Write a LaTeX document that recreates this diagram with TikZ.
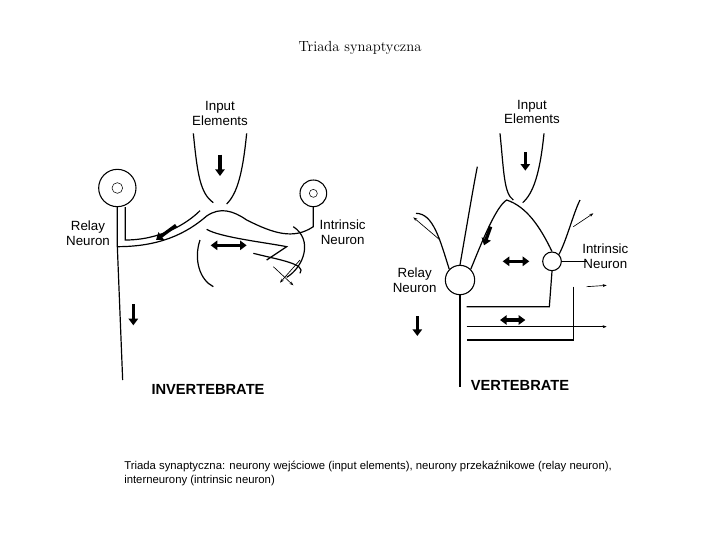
\documentclass[tikz,border=0pt]{standalone}
\usepackage{fontspec}
\setsansfont{Liberation Sans}
\usetikzlibrary{positioning,arrows.meta}
\tikzset{
  lbl/.style={font=\sffamily\fontsize{10}{11}\selectfont,align=center,inner sep=1pt},
  big/.style={font=\sffamily\bfseries\fontsize{11}{12}\selectfont,inner sep=1pt},
  soma/.style={circle,draw,line width=0.8pt,minimum size=28pt,inner sep=0pt},
  isoma/.style={circle,draw,line width=0.8pt,minimum size=20pt,inner sep=0pt},
  proc/.style={line width=0.9pt},
  fat/.style={-{Triangle[length=5pt,width=7pt]},line width=2.5pt},
  fatboth/.style={{Triangle[length=5pt,width=7pt]}-{Triangle[length=5pt,width=7pt]},line width=2.5pt},
  thin/.style={-{Stealth[length=3pt]},line width=0.5pt}
}
\begin{document}
\begin{tikzpicture}[x=1pt,y=-1pt]
  \useasboundingbox (0,0) rectangle (540,405);
  % px -> pt: 0.75
  \node (title) at (270,36) {\fontsize{11}{12}\selectfont Triada synaptyczna};
  % ----- invertebrate
  \node[lbl] (inL) at (165,85) {Input\\Elements};
  \node[lbl] (relL) at (66,175) {Relay\\Neuron};
  \node[lbl] (intL) at (257,174) {Intrinsic\\Neuron};
  \node[big] (inv) at (156,292) {INVERTEBRATE};
  \node[soma] (sL) at (88,141) {};
  \node[isoma] (iL) at (235,145) {};
  \node[circle,draw,minimum size=8pt,inner sep=0pt] at (sL) {};
  \node[circle,draw,minimum size=6pt,inner sep=0pt] at (iL) {};
  \coordinate (axL) at (92,285);
  \draw[proc] (sL.south) -- (88,185) -- (axL);
  \draw[proc] (88,185) .. controls (120,185) and (140,175) .. (155,162)
     .. controls (165,155) and (175,158) .. (185,165) .. controls (205,175) and (220,180) .. (235,170) -- (iL.south);
  \draw[proc] (sL.south) ++(6,0) -- (94,180) .. controls (120,180) and (140,168) .. (150,158);
  \draw[proc] (145,100) .. controls (148,130) and (150,145) .. (160,152);
  \draw[proc] (185,100) .. controls (182,130) and (178,145) .. (170,153);
  \draw[proc] (155,172) .. controls (165,178) and (200,182) .. (215,185) -- (200,195);
  \draw[proc] (150,180) .. controls (145,195) and (150,210) .. (160,215);
  \draw[proc] (190,190) .. controls (210,195) and (230,198) .. (225,205);
  \draw[proc] (220,170) .. controls (235,180) and (228,200) .. (215,208);
  \draw[thin] (205,200) -- (220,214);
  \draw[thin] (225,195) -- (210,212);
  \draw[fat] (165,116) -- (165,132);
  \draw[fat] (132,169) -- (117,180);
  \draw[fatboth] (158,184) -- (185,184);
  \draw[fat] (100,228) -- (100,244);
  % ----- vertebrate
  \node[lbl] (inR) at (399,84) {Input\\Elements};
  \node[lbl] (relR) at (311,210) {Relay\\Neuron};
  \node[lbl] (intR) at (454,192) {Intrinsic\\Neuron};
  \node[big] (ver) at (390,289) {VERTEBRATE};
  \node[soma,minimum size=22pt] (sR) at (345,210) {};
  \node[isoma,minimum size=14pt] (iR) at (414,196) {};
  \coordinate (axR) at (345,290);
  \draw[proc] (sR.south) -- (axR);
  \draw[proc] (sR.north west) .. controls (330,180) and (325,160) .. (312,160);
  \draw[proc] (sR.north) .. controls (350,170) and (355,140) .. (358,125);
  \draw[proc] (sR.north east) .. controls (362,180) and (372,155) .. (380,150)
     .. controls (395,155) and (405,170) .. (iR.north);
  \draw[proc] (iR.north east) .. controls (425,180) and (430,160) .. (435,150);
  \draw[proc] (iR.east) -- (440,196);
  \draw[proc] (iR.south) -- (412,230) -- (350,230);
  \draw[proc] (350,245) -- (450,245);
  \draw[proc] (430,215) -- (430,255) -- (350,255);
  \draw[proc] (375,100) .. controls (378,130) and (378,145) .. (385,150);
  \draw[proc] (408,100) .. controls (405,130) and (400,145) .. (392,152);
  \draw[thin] (330,180) -- (310,163);
  \draw[thin] (430,170) -- (445,160);
  \draw[thin] (440,245) -- (455,245);
  \draw[thin] (440,215) -- (455,214);
  \draw[fat] (394,114) -- (394,128);
  \draw[fat] (368,170) -- (363,184);
  \draw[fatboth] (377,196) -- (397,196);
  \draw[fatboth] (375,240) -- (394,240);
  \draw[fat] (313,237) -- (313,252);
  % ----- caption
  \node[lbl,align=left,anchor=north west,font=\sffamily\fontsize{8.5}{10.5}\selectfont] (cap) at (92,345)
    {Triada synaptyczna: neurony wejściowe (input elements), neurony przekaźnikowe (relay neuron),\\interneurony (intrinsic neuron)};
\end{tikzpicture}
\end{document}
